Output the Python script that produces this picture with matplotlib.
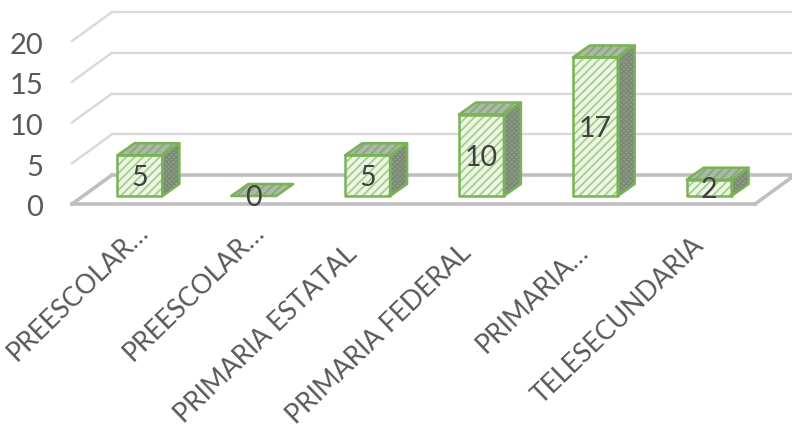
import matplotlib
matplotlib.use("Agg")
import matplotlib.pyplot as plt
from matplotlib.patches import Polygon
from matplotlib.transforms import Affine2D

# data
categories = ["PREESCOLAR…", "PREESCOLAR…", "PRIMARIA ESTATAL", "PRIMARIA FEDERAL", "PRIMARIA…", "TELESECUNDARIA"]
values = [5, 0, 5, 10, 17, 2]
y_ticks = [0, 5, 10, 15, 20]

plt.rcParams['font.family'] = ['Lato', 'DejaVu Sans']
plt.rcParams['hatch.linewidth'] = 1.3

W, H = 792, 430
fig = plt.figure(figsize=(W / 100, H / 100), dpi=100)

# plot area = front plane of the fake 3D box
ax = fig.add_axes([72 / W, (H - 204) / H, 683 / W, 163 / H])
ax.set_xlim(-0.5, 5.5)
ax.set_ylim(0, 20)
for s in ax.spines.values():
    s.set_visible(False)


def shift(dx, dy):
    # offset in pixels, y up
    return ax.transData + Affine2D().translate(dx, dy)


back = (40, 29)
back_tr = shift(*back)

# gridlines on the back wall and left wall
for t in y_ticks:
    col = '#bfbfbf' if t == 0 else '#d9d9d9'
    lw = 2.6 if t == 0 else 1.7
    ax.plot([-0.5, 5.5], [t, t], transform=back_tr, color=col, lw=lw, clip_on=False, zorder=1)
    x0, y0 = ax.transData.transform((-0.5, t))
    ax.plot([x0, x0 + back[0]], [y0, y0 + back[1]], transform=None, color=col, lw=lw, clip_on=False, zorder=1)

# floor front edge and right edge
ax.plot([-0.5, 5.5], [0, 0], color='#bfbfbf', lw=2.6, clip_on=False, zorder=1)
x0, y0 = ax.transData.transform((5.5, 0))
ax.plot([x0, x0 + back[0]], [y0, y0 + back[1]], transform=None, color='#bfbfbf', lw=2.6, clip_on=False, zorder=1)

bar_w = 0.395
near = (11, 8)
far = (28, 20)
edge = '#7ab356'


def face(pts, fill, hatch_col, hatch):
    ax.add_patch(Polygon(pts, closed=True, transform=None, facecolor=fill, edgecolor=hatch_col,
                         hatch=hatch, lw=0, clip_on=False, zorder=3))
    ax.add_patch(Polygon(pts, closed=True, transform=None, facecolor='none', edgecolor=edge,
                         lw=1.8, joinstyle='round', clip_on=False, zorder=4))


for i, v in enumerate(values):
    l, r = i - bar_w / 2, i + bar_w / 2
    x_l = ax.transData.transform((l, 0))[0] + near[0]
    x_r = ax.transData.transform((r, 0))[0] + near[0]
    _, y_b = ax.transData.transform((l, 0))
    _, y_t = ax.transData.transform((l, v))
    y_b += near[1]
    y_t += near[1]
    dx, dy = far[0] - near[0], far[1] - near[1]

    # top
    top = [(x_l, y_t), (x_r, y_t), (x_r + dx, y_t + dy), (x_l + dx, y_t + dy)]
    face(top, '#a9bba0', '#8ea285', '////')
    if v > 0:
        # right side
        side = [(x_r, y_b), (x_r + dx, y_b + dy), (x_r + dx, y_t + dy), (x_r, y_t)]
        face(side, '#98a692', '#7c8b76', 'xxxxxxx')
        # front
        front = [(x_l, y_b), (x_r, y_b), (x_r, y_t), (x_l, y_t)]
        face(front, '#edf5e7', '#a6cf8b', '////')
    ax.text((x_l + x_r) / 2, (y_b + y_t) / 2 - 2.5, str(v), transform=None, ha='center', va='center',
            fontsize=20.5, color='#404040', zorder=6)

ax.set_yticks(y_ticks)
ax.set_yticklabels([str(t) for t in y_ticks], fontsize=21, color='#595959')
ax.set_xticks(range(len(categories)))
ax.set_xticklabels(categories, rotation=44, ha='right', rotation_mode='anchor', fontsize=19.2, color='#595959')
ax.tick_params(axis='both', length=0)
ax.tick_params(axis='y', pad=20)
ax.tick_params(axis='x', pad=40)

# labels do not line up evenly in the original, nudge each one (px)
label_nudge = [(21, 40), (23, 40), (2, 18), (2, 19), (6, 20), (7, 27)]
for lab, (nx, ny) in zip(ax.get_xticklabels(), label_nudge):
    lab.set_transform(lab.get_transform() + Affine2D().translate(nx - 14, ny))
for lab in ax.get_yticklabels():
    lab.set_transform(lab.get_transform() + Affine2D().translate(-1, -2))

fig.savefig("out.png", dpi=100)
